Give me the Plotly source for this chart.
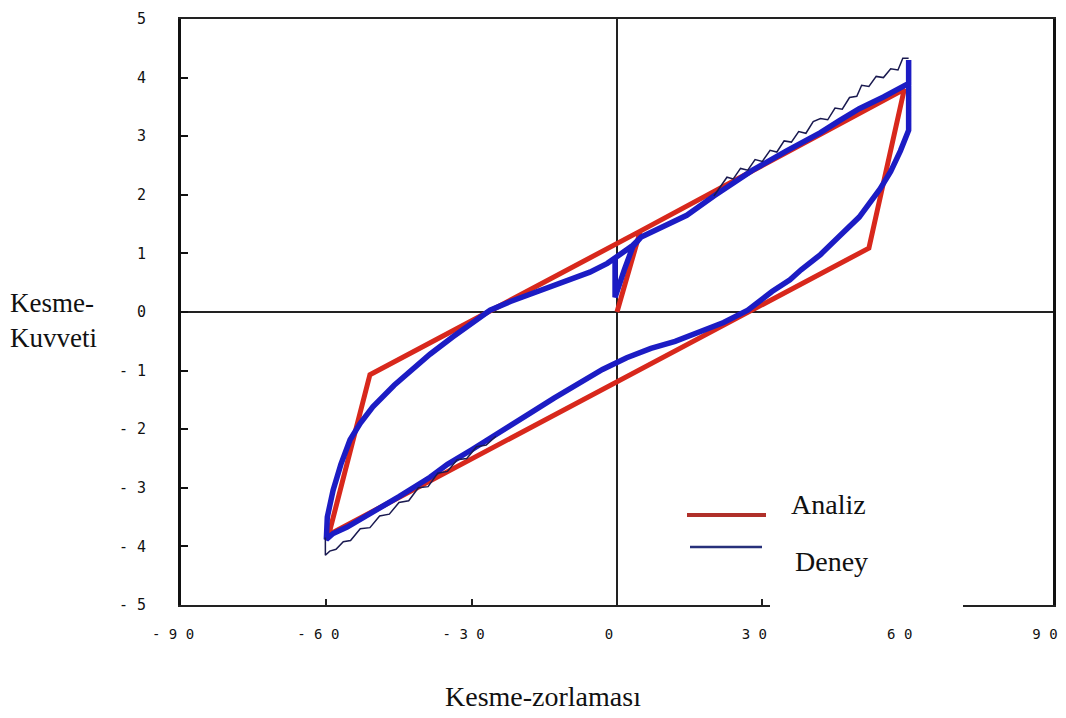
import plotly.graph_objects as go

# ---------------- data ----------------
analiz_x = [0.0, 4.8, 59.3, 52.0, -59.5, -51.0, 4.8]
analiz_y = [0.0, 1.38, 3.80, 1.09, -3.80, -1.07, 1.38]

deney_x = [-0.4, -0.4, 1.5, 3.3, 5, 10, 14.4, 20, 24, 28, 35, 42, 46, 50, 55, 59.5, 60.2, 60.2, 60.2,
           58.5, 56.5, 54.3, 52, 50, 46, 42, 38, 35.7, 32, 29.5, 27, 22, 17, 12, 7, 2, -3, -8, -13, -18,
           -25, -30, -35, -38.6, -45, -50, -55.7, -58.6, -60, -59.8, -58.6, -57, -55.1, -53, -50.4, -46,
           -40.7, -38.6, -34, -30, -26.2, -22, -18, -15, -11.8, -8, -5.6, -2, -0.4, 3, 5]
deney_y = [0.93, 0.25, 0.72, 1.12, 1.28, 1.47, 1.65, 1.98, 2.2, 2.42, 2.75, 3.06, 3.27, 3.47, 3.67, 3.87, 3.9, 4.3, 3.1,
           2.75, 2.4, 2.1, 1.85, 1.62, 1.3, 0.98, 0.72, 0.55, 0.35, 0.2, 0.03, -0.18, -0.35, -0.5, -0.62, -0.78, -0.98, -1.22, -1.47, -1.73,
           -2.1, -2.35, -2.6, -2.82, -3.15, -3.4, -3.67, -3.78, -3.88, -3.5, -3.04, -2.6, -2.18, -1.9, -1.62, -1.25,
           -0.87, -0.72, -0.43, -0.2, 0.03, 0.18, 0.3, 0.4, 0.51, 0.6, 0.68, 0.83, 0.93, 1.12, 1.28]

# first (outer) experimental cycle, thin line
deney_ilk_x = [20, 22.7, 24, 25.5, 27, 28.5, 30, 31.6, 33, 34.5, 36, 37.5, 39, 40.5, 42, 43.5, 45, 46.5, 48, 49.5,
               50.5, 52, 53.5, 55, 56.5, 58, 59, 60.2, None,
               -25, -27, -29, -31, -33, -35, -37, -39, -41, -43, -45, -47, -49, -51, -53, -55, -56.5, -58,
               -59.3, -60.2, -60.2]
deney_ilk_y = [1.98, 2.3, 2.27, 2.45, 2.42, 2.6, 2.57, 2.76, 2.73, 2.92, 2.9, 3.08, 3.05, 3.25, 3.3, 3.28, 3.48, 3.46, 3.66, 3.68,
               3.87, 3.85, 4.02, 4.0, 4.15, 4.13, 4.33, 4.33, None,
               -2.12, -2.27, -2.3, -2.5, -2.52, -2.72, -2.75, -2.98, -3.0, -3.22, -3.25, -3.45, -3.48, -3.68, -3.7, -3.9, -3.92, -4.05,
               -4.08, -4.15, -3.85]

x_ticks = [-90, -60, -30, 0, 30, 60, 90]
x_tick_text = ["- 9 0", "- 6 0", "- 3 0", "0", "3 0", "6 0", "9 0"]
y_ticks = [-5, -4, -3, -2, -1, 0, 1, 2, 3, 4, 5]
y_tick_text = ["- 5", "- 4", "- 3", "- 2", "- 1", "0", "1", "2", "3", "4", "5"]

RED = "#d8281c"
BLUE = "#1c1cc4"
NAVY = "#1a1a50"

# ---------------- figure ----------------
# the page body has an 8px default margin, so the figure is 8px smaller and shifted
OFF = 8
W, H = 1066 - OFF, 718 - OFF
L, R, T, B = 181 - OFF, 13, 19 - OFF, 113
PW, PH = W - L - R, H - T - B


def px(xp):
    return (xp - OFF - L) / PW


def py(yp):
    return (H - B - (yp - OFF)) / PH


fig = go.Figure()
fig.add_trace(go.Scatter(x=analiz_x, y=analiz_y, mode="lines", name="Analiz",
                         line=dict(color=RED, width=5), showlegend=False))
fig.add_trace(go.Scatter(x=deney_x, y=deney_y, mode="lines", name="Deney",
                         line=dict(color=BLUE, width=5.5), showlegend=False))
fig.add_trace(go.Scatter(x=deney_ilk_x, y=deney_ilk_y, mode="lines", name="Deney",
                         line=dict(color=NAVY, width=1.5), showlegend=False, connectgaps=False))

fig.update_xaxes(range=[-90, 90], tickvals=x_ticks, ticktext=x_tick_text,
                 tickfont=dict(family="DejaVu Sans Mono", size=14, color="#111"),
                 ticks="inside", ticklen=6, tickwidth=1.5, tickcolor="#222",
                 showline=True, linecolor="#222", linewidth=2, mirror=True,
                 showgrid=False, zeroline=True, zerolinecolor="#222", zerolinewidth=1.5,
                 ticklabelstandoff=15, ticklabelshift=-8, automargin=False, ticklabeloverflow="allow")
fig.update_yaxes(range=[-5, 5], tickvals=y_ticks, ticktext=y_tick_text,
                 tickfont=dict(family="DejaVu Sans Mono", size=15, color="#111"),
                 ticks="inside", ticklen=7, tickwidth=1.5, tickcolor="#111",
                 showline=True, linecolor="#111", linewidth=3, mirror=True,
                 showgrid=False, zeroline=True, zerolinecolor="#222", zerolinewidth=1.5,
                 ticklabelstandoff=29, automargin=False, ticklabeloverflow="allow")

shapes = [
    # white patch covering part of the bottom axis (legend area)
    dict(type="rect", xref="paper", yref="paper", x0=px(770), x1=px(963), y0=py(612), y1=py(540),
         fillcolor="white", line=dict(width=0), layer="above"),
    # legend samples
    dict(type="line", xref="paper", yref="paper", x0=px(687), x1=px(766), y0=py(515), y1=py(515),
         line=dict(color="#b0302a", width=4), layer="above"),
    dict(type="line", xref="paper", yref="paper", x0=px(690), x1=px(762), y0=py(547), y1=py(547),
         line=dict(color="#27307a", width=2.5), layer="above"),
]

serif = dict(family="Liberation Serif", size=28, color="#111")
annotations = [
    dict(text="Analiz", x=px(789), y=py(504), xanchor="left", yanchor="middle"),
    dict(text="Deney", x=px(793), y=py(561), xanchor="left", yanchor="middle"),
    dict(text="Kesme-<br>Kuvveti", x=px(8), y=py(320), xanchor="left", yanchor="middle",
         align="left", font=dict(family="Liberation Serif", size=27, color="#111")),
    dict(text="Kesme-zorlaması", x=px(543), y=py(696), xanchor="center", yanchor="middle"),
]
for a in annotations:
    a.update(xref="paper", yref="paper", showarrow=False)
    a.setdefault("font", serif)

fig.update_layout(width=W, height=H, margin=dict(l=L, r=R, t=T, b=B, autoexpand=False),
                  plot_bgcolor="white", paper_bgcolor="white",
                  shapes=shapes, annotations=annotations, showlegend=False)

fig.write_html("out.html")
